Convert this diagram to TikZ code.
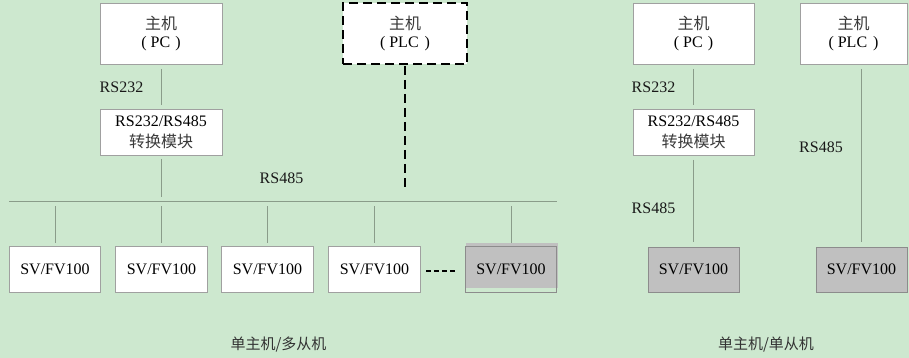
\documentclass[tikz,border=0pt]{standalone}
\usepackage{fontspec}
\setmainfont{Liberation Serif}
\newfontfamily\cjk{Noto Sans CJK SC}
\definecolor{bg}{HTML}{CDE8CF}
\definecolor{wire}{HTML}{8A9C8A}
\definecolor{edge}{HTML}{A0A0A0}
\definecolor{gfill}{HTML}{C0C0C0}
\definecolor{gedge}{HTML}{8C8C8C}
\definecolor{cjktext}{HTML}{3A3A3A}
\newcommand{\hostpc}{{\cjk\color{cjktext}主机}\\[-1pt](\hspace{4pt}PC\hspace{5pt})}
\newcommand{\hostplc}{{\cjk\color{cjktext}主机}\\[-1pt](\hspace{4pt}PLC\hspace{6pt})}
\begin{document}
\begin{tikzpicture}[x=1pt,y=-1pt,
  every node/.style={inner sep=0pt,outer sep=0pt},
  box/.style={draw=edge,line width=0.8pt,fill=white,align=center,
    font=\fontsize{16}{19}\selectfont},
  svbox/.style={box,minimum width=91.4pt,minimum height=46pt},
  graybox/.style={svbox,fill=gfill,draw=gedge},
  hostbox/.style={box,minimum height=61pt},
  convbox/.style={box,minimum width=122pt,minimum height=46pt},
  lbl/.style={font=\fontsize{16}{19}\selectfont,text=black!90},
  captext/.style={font=\cjk\fontsize{15}{18}\selectfont,text=black!80},
  wireline/.style={draw=wire,line width=0.8pt},
  dashline/.style={draw=black,line width=2pt,dash pattern=on 9pt off 5pt},
  dotline/.style={draw=black,line width=2.8pt,dash pattern=on 5pt off 3pt}
]
\useasboundingbox (0,0) rectangle (909,358);
\fill[bg] (0,0) rectangle (909,358);

% ---------- left: single master / multiple slaves ----------
\node[hostbox,minimum width=122pt] (pc1) at (161,33.5) {\hostpc};
\node[convbox] (conv1) at (161,132)
  {RS232/RS485\\[2pt]{\cjk\color{cjktext}转换模块}};
\node[hostbox,minimum width=124pt,draw=black,dashline] (plc1) at (405,33.5) {\hostplc};

\node[lbl] (l232a) at (121.5,87) {RS232};
\node[lbl] (l485a) at (281.5,178) {RS485};

\coordinate (busL) at (9.3,201);
\coordinate (busR) at (556.7,201);
\draw[wireline] (busL) -- (busR);

\node[svbox] (sv1) at (55,269.3) {SV/FV100};
\node[svbox] (sv2) at (161.5,269.3) {SV/FV100};
\node[svbox] (sv3) at (267.5,269.3) {SV/FV100};
\node[svbox] (sv4) at (374.5,269.3) {SV/FV100};
% shaded last slave: fill shifted up against its outline
\fill[gfill] (466,243.3) rectangle (557.7,288);
\node[svbox,fill=none,draw=gedge] (sv5) at (511,269.3) {SV/FV100};

\coordinate (dotsL) at (426,271);
\coordinate (dotsR) at (455,271);
\draw[dotline] (dotsL) -- (dotsR);

\draw[wireline] ([yshift=-5pt]pc1.south) -- ([yshift=4pt]conv1.north);
\draw[wireline] ([yshift=-4pt]conv1.south) -- ([yshift=4pt]conv1.south |- busL);
\foreach \n in {sv1,sv2,sv3,sv4,sv5}
  \draw[wireline] ([yshift=-5pt]\n.north |- busL) -- ([yshift=3.5pt]\n.north);

\coordinate (plcend) at (405,189);
\draw[dashline] ([yshift=-2pt]plc1.south) -- (plcend);

\node[captext] (cap1) at (278.5,345) {单主机/多从机};

% ---------- right: single master / single slave ----------
\node[hostbox,minimum width=121pt] (pc2) at (693.5,33.5) {\hostpc};
\node[box,minimum width=121pt,minimum height=46pt] (conv2) at (693.5,132)
  {RS232/RS485\\[2pt]{\cjk\color{cjktext}转换模块}};
\node[hostbox,minimum width=107pt] (plc2) at (853.5,33.5) {\hostplc};

\node[graybox,minimum width=91pt,minimum height=45pt] (sv6) at (693.5,269.5) {SV/FV100};
\node[graybox,minimum width=91pt,minimum height=45pt] (sv7) at (861.5,269.5) {SV/FV100};

\node[lbl] (l232b) at (653.5,87) {RS232};
\node[lbl] (l485b) at (653.5,208) {RS485};
\node[lbl] (l485c) at (821,147) {RS485};

\draw[wireline] ([yshift=-5pt]pc2.south) -- ([yshift=4pt]conv2.north);
\draw[wireline] ([yshift=-5pt]conv2.south) -- ([yshift=5pt]sv6.north);
\draw[wireline] ([yshift=-5pt]sv7.north |- plc2.south) -- ([yshift=5pt]sv7.north);

\node[captext] (cap2) at (766,345) {单主机/单从机};
\end{tikzpicture}
\end{document}
